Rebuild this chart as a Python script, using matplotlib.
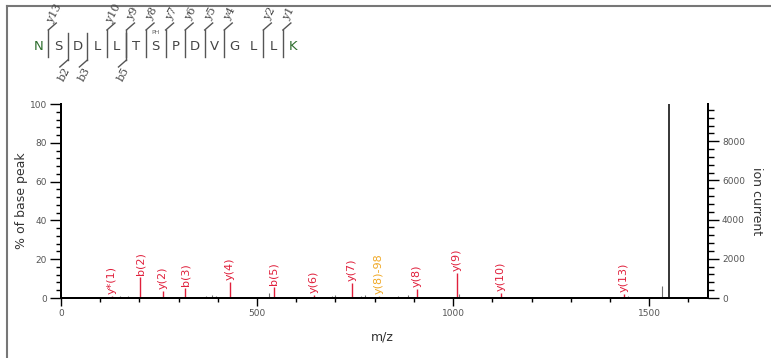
import matplotlib
matplotlib.use("Agg")
import matplotlib.pyplot as plt
from matplotlib.ticker import MultipleLocator
from matplotlib.lines import Line2D

# ---------------- data ----------------
ion_labels = ["y*(1)", "b(2)", "y(2)", "b(3)", "y(4)", "b(5)", "y(6)", "y(7)",
              "y(8)-98", "y(8)", "y(9)", "y(10)", "y(13)"]
ion_mz = [130, 202, 260, 317, 430, 543, 644, 741, 810, 908, 1009, 1122, 1436]
ion_int = [1.0, 10.8, 3.6, 5.0, 8.0, 5.7, 1.5, 7.7, 0.8, 4.6, 12.9, 2.6, 2.0]
ion_kind = ["main"] * 8 + ["loss"] + ["main"] * 4

other_mz = [150, 172, 230, 370, 385, 395, 530, 600, 690, 700, 715, 765, 775,
            860, 885, 1015, 1445, 1533]
other_int = [0.8, 1.2, 0.6, 1.0, 1.5, 0.8, 2.5, 0.6, 1.0, 1.4, 0.7, 1.0, 1.5,
             1.0, 1.5, 2.0, 0.8, 6.3]

precursor_mz = 1551
precursor_int = 100.0
base_peak_current = 9900

sequence = ["N", "S", "D", "L", "L", "T", "S", "P", "D", "V", "G", "L", "L", "K"]
y_cuts = {1: "y13", 4: "y10", 5: "y9", 6: "y8", 7: "y7", 8: "y6", 9: "y5",
          10: "y4", 12: "y2", 13: "y1"}
b_cuts = {2: "b2", 3: "b3", 5: "b5"}
phospho_index = 6

# ---------------- figure ----------------
W, H = 771, 358
fig = plt.figure(figsize=(W / 100, H / 100), dpi=100)
ax = fig.add_axes([61 / W, 1 - 298 / H, (708 - 61) / W, (298 - 104) / H])
ax2 = ax.twinx()

red = "#e0203c"
orange = "#f0a825"

ax.vlines(other_mz, 0, other_int, color="#707070", lw=0.8)
for mz, h, lab, kind in zip(ion_mz, ion_int, ion_labels, ion_kind):
    c = red if kind == "main" else orange
    ax.vlines(mz, 0, h, color=c, lw=1.0)
    ax.text(mz, h + 1.2, lab, rotation=90, ha="center", va="bottom",
            color=c, fontsize=8)
ax.vlines(precursor_mz, 0, precursor_int, color="black", lw=1.1)

ax.set_xlim(0, 1650)
ax.set_ylim(0, 100)
ax2.set_ylim(0, base_peak_current)

for s in ["top"]:
    ax.spines[s].set_visible(False)
    ax2.spines[s].set_visible(False)
for a in (ax, ax2):
    for s in ["left", "right", "bottom"]:
        a.spines[s].set_linewidth(1.4)

ax.xaxis.set_major_locator(MultipleLocator(500))
ax.xaxis.set_minor_locator(MultipleLocator(100))
ax.yaxis.set_major_locator(MultipleLocator(20))
ax.yaxis.set_minor_locator(MultipleLocator(4))
ax2.yaxis.set_major_locator(MultipleLocator(2000))
ax2.yaxis.set_minor_locator(MultipleLocator(400))

tick_c = "#555555"
ax.tick_params(axis="both", which="major", direction="out", length=8, width=1,
               labelsize=6.5, labelcolor=tick_c, pad=2)
ax.tick_params(axis="both", which="minor", direction="out", length=3.5, width=1)
ax.tick_params(axis="x", which="major", length=6)
ax.tick_params(axis="x", which="minor", length=3)
ax2.tick_params(axis="y", which="major", direction="out", length=8, width=1,
                labelsize=6.5, labelcolor=tick_c, pad=2)
ax2.tick_params(axis="y", which="minor", direction="out", length=4, width=1)

ax.set_xlabel("m/z", fontsize=9, color="#333333")
ax.set_ylabel("% of base peak", fontsize=9, color="#333333")
ax2.set_ylabel("ion current", fontsize=9, color="#333333", rotation=-90,
               va="bottom")
ax2.yaxis.set_label_coords(1.065, 0.5)
ax.yaxis.set_label_coords(-0.051, 0.5)
ax.xaxis.set_label_coords(0.497, -0.17)

# ---------------- peptide annotation ----------------
def px(x, y):
    return (x / W, 1 - y / H)

x0, dx = 38.5, 19.55
let_y = 46
for i, aa in enumerate(sequence):
    col = "#2f6f2f" if i in (0, len(sequence) - 1) else "#444444"
    fig.text(*px(x0 + i * dx, let_y), aa, ha="center", va="center",
             fontsize=9.5, color=col)
fig.text(*px(x0 + phospho_index * dx, 32), "PH", ha="center", va="center",
         fontsize=4.5, color="#666666")

line_c = "#555555"
for cut, lab in y_cuts.items():
    xc = x0 + (cut - 0.5) * dx
    fig.add_artist(Line2D([xc / W, xc / W], [1 - 30 / H, 1 - 57 / H],
                          color=line_c, lw=1.0, transform=fig.transFigure))
    fig.add_artist(Line2D([xc / W, (xc + 8) / W], [1 - 30 / H, 1 - 23 / H],
                          color=line_c, lw=1.0, transform=fig.transFigure))
    fig.text(*px(xc + 6, 14), lab, ha="center", va="center", rotation=62,
             fontsize=8, family="DejaVu Serif", color="#444444")
for cut, lab in b_cuts.items():
    xc = x0 + (cut - 0.5) * dx
    fig.add_artist(Line2D([xc / W, xc / W], [1 - 33 / H, 1 - 60 / H],
                          color=line_c, lw=1.0, transform=fig.transFigure))
    fig.add_artist(Line2D([xc / W, (xc - 8) / W], [1 - 60 / H, 1 - 67 / H],
                          color=line_c, lw=1.0, transform=fig.transFigure))
    fig.text(*px(xc - 3, 74), lab, ha="center", va="center", rotation=62,
             fontsize=8, family="DejaVu Serif", color="#444444")

# frame lines (top and left visible)
fig.add_artist(Line2D([6.5 / W, 1], [1 - 6 / H, 1 - 6 / H], color="#777777",
                      lw=1.5, transform=fig.transFigure))
fig.add_artist(Line2D([6.5 / W, 6.5 / W], [0, 1 - 6 / H], color="#777777",
                      lw=1.5, transform=fig.transFigure))

fig.savefig("out.png", dpi=100)
